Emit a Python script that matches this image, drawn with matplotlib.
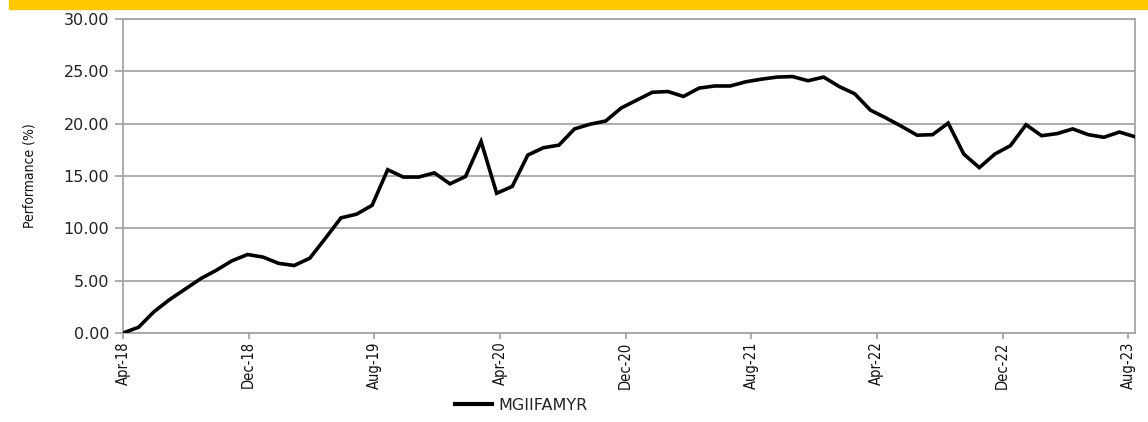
import matplotlib.pyplot as plt
import matplotlib.patches as mpatches
from matplotlib import font_manager

# Datos mensuales (Apr-18 .. Sep-23)
months = ['Apr-18', 'May-18', 'Jun-18', 'Jul-18', 'Aug-18', 'Sep-18', 'Oct-18', 'Nov-18',
          'Dec-18', 'Jan-19', 'Feb-19', 'Mar-19', 'Apr-19', 'May-19', 'Jun-19', 'Jul-19',
          'Aug-19', 'Sep-19', 'Oct-19', 'Nov-19', 'Dec-19', 'Jan-20', 'Feb-20', 'Mar-20',
          'Apr-20', 'May-20', 'Jun-20', 'Jul-20', 'Aug-20', 'Sep-20', 'Oct-20', 'Nov-20',
          'Dec-20', 'Jan-21', 'Feb-21', 'Mar-21', 'Apr-21', 'May-21', 'Jun-21', 'Jul-21',
          'Aug-21', 'Sep-21', 'Oct-21', 'Nov-21', 'Dec-21', 'Jan-22', 'Feb-22', 'Mar-22',
          'Apr-22', 'May-22', 'Jun-22', 'Jul-22', 'Aug-22', 'Sep-22', 'Oct-22', 'Nov-22',
          'Dec-22', 'Jan-23', 'Feb-23', 'Mar-23', 'Apr-23', 'May-23', 'Jun-23', 'Jul-23',
          'Aug-23', 'Sep-23']
perf = [0.0, 0.55, 2.05, 3.2, 4.2, 5.2, 6.0, 6.9,
        7.5, 7.25, 6.65, 6.45, 7.15, 9.05, 11.0, 11.35,
        12.2, 15.6, 14.9, 14.9, 15.3, 14.25, 14.95, 18.3,
        13.35, 14.0, 17.0, 17.7, 17.95, 19.5, 19.95, 20.25,
        21.5, 22.25, 23.0, 23.07, 22.6, 23.4, 23.6, 23.6,
        24.0, 24.25, 24.45, 24.5, 24.1, 24.45, 23.55, 22.85,
        21.3, 20.55, 19.75, 18.9, 18.95, 20.05, 17.1, 15.8,
        17.1, 17.9, 19.9, 18.85, 19.05, 19.5, 18.95, 18.7,
        19.2, 18.75]

tick_labels = ['Apr-18', 'Dec-18', 'Aug-19', 'Apr-20', 'Dec-20', 'Aug-21', 'Apr-22', 'Dec-22', 'Aug-23']
tick_step = 8.07  # eje de fechas: las etiquetas se desplazan un poco respecto a los puntos

gris = '#a6a6a6'
# fuente estrecha para las etiquetas del eje x y del eje y
narrow_x = font_manager.FontProperties(family='DejaVu Sans', stretch='condensed', size=10.5)
narrow_y = font_manager.FontProperties(family='DejaVu Sans', stretch='condensed', size=10)

fig = plt.figure(figsize=(11.48, 4.22), dpi=100)

# Banda amarilla superior
fig.patches.append(mpatches.Rectangle((9 / 1148, 1 - 9 / 422), 1, 9 / 422,
                                      transform=fig.transFigure, color='#ffc800', zorder=0))

ax = fig.add_axes([123 / 1148, 89 / 422, (1135 - 123) / 1148, (333 - 19) / 422])
x = list(range(len(perf)))
ax.plot(x, perf, color='black', linewidth=2.6, solid_joinstyle='miter', label='MGIIFAMYR', zorder=3)

ax.set_xlim(0, len(perf) - 1)
ax.set_ylim(0, 30)
ax.set_yticks([0, 5, 10, 15, 20, 25, 30])
ax.set_yticklabels(['%.2f' % v for v in [0, 5, 10, 15, 20, 25, 30]],
                   fontsize=11.5, color='#222222', family='DejaVu Sans')
ax.set_xticks([i * tick_step for i in range(len(tick_labels))])
ax.set_xticklabels(tick_labels, rotation=90, fontproperties=narrow_x, color='#111111')

ax.grid(axis='y', color=gris, linewidth=1.3, zorder=1)
for s in ax.spines.values():
    s.set_color(gris)
    s.set_linewidth(1.3)
ax.tick_params(axis='y', length=6, width=1.3, color=gris, pad=4)
ax.tick_params(axis='x', length=4, width=1.3, color=gris, pad=2)

ax.set_ylabel('Performance (%)', fontproperties=narrow_y, color='#111111', labelpad=19)

leg = fig.legend(loc='center', bbox_to_anchor=(521 / 1148, 1 - 405 / 422), frameon=False,
                 prop={'family': 'DejaVu Sans', 'size': 11.5}, handlelength=2.3, handletextpad=0.4)
leg.get_lines()[0].set_linewidth(3.0)
for t in leg.get_texts():
    t.set_color('#222222')

fig.savefig('out.png', dpi=100)
